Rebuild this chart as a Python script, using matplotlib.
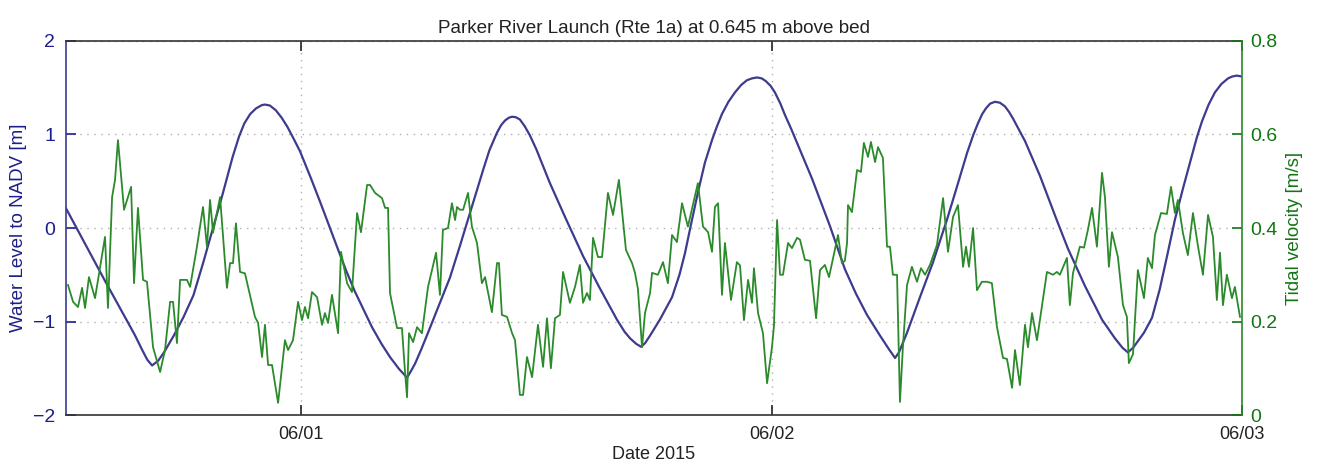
import matplotlib
matplotlib.use("Agg")
import matplotlib.pyplot as plt
import matplotlib.dates as mdates
import pandas as pd

plt.rcParams['font.family'] = ['Liberation Sans', 'DejaVu Sans']

start = pd.Timestamp("2015-05-31 12:00")
end = pd.Timestamp("2015-06-03 00:00")

# Water level (hours after 05/31 12:00, metres)
wl_hours = [0.0, 1.0, 2.0, 3.0, 3.5, 3.9, 4.15, 4.39, 4.7, 5.0, 5.5, 6.0, 6.5, 7.0, 7.5,
            8.0, 8.5, 8.83, 9.1, 9.4, 9.7, 10.0, 10.15, 10.4, 10.7, 11.0, 11.3, 11.6,
            11.94, 12.5, 13.0, 13.5, 13.88, 14.3, 14.74, 15.2, 15.61, 16.1, 16.53, 17.0,
            17.40, 17.6, 17.81, 18.1, 18.47, 19.0, 19.59, 20.1, 20.61, 21.0, 21.28, 21.6,
            21.99, 22.2, 22.4, 22.6, 22.76, 22.95, 23.16, 23.4, 23.67, 24.0, 24.69, 25.5,
            26.38, 27.2, 28.11, 28.5, 28.78, 29.1, 29.34, 29.55, 29.8, 30.3, 30.92, 31.3,
            31.58, 31.9, 32.24, 32.6, 32.96, 33.2, 33.47, 33.8, 34.13, 34.45, 34.74, 35.0,
            35.26, 35.5, 35.71, 35.95, 36.17, 36.45, 36.68, 37.0, 37.30, 38.06, 38.98,
            39.74, 40.3, 40.87, 41.53, 42.0, 42.30, 42.5, 42.91, 43.57, 44.23, 44.95, 45.5,
            45.97, 46.3, 46.53, 46.75, 46.94, 47.15, 47.40, 47.65, 47.91, 48.12, 48.32,
            48.6, 48.93, 49.69, 50.56, 51.12, 51.99, 52.86, 53.52, 53.9, 54.18, 54.45,
            54.69, 55.0, 55.41, 55.8, 56.2, 56.58, 57.0, 57.35, 57.7, 57.96, 58.3, 58.62,
            58.95, 59.29, 59.5, 59.74, 60.0]
wl_values = [0.21, -0.18, -0.57, -0.95, -1.14, -1.31, -1.41, -1.47, -1.42, -1.33, -1.15,
             -0.95, -0.72, -0.37, 0.0, 0.37, 0.76, 0.98, 1.12, 1.22, 1.28, 1.315, 1.32,
             1.31, 1.26, 1.18, 1.08, 0.96, 0.82, 0.53, 0.26, -0.02, -0.23, -0.46, -0.68,
             -0.88, -1.06, -1.24, -1.38, -1.51, -1.60, -1.53, -1.45, -1.31, -1.12, -0.84,
             -0.53, -0.19, 0.16, 0.43, 0.62, 0.83, 1.02, 1.10, 1.15, 1.18, 1.19, 1.185,
             1.16, 1.09, 0.99, 0.84, 0.48, 0.10, -0.30, -0.63, -0.98, -1.11, -1.18, -1.24,
             -1.27, -1.23, -1.15, -0.98, -0.74, -0.50, -0.27, 0.05, 0.38, 0.70, 0.94, 1.08,
             1.22, 1.35, 1.45, 1.53, 1.58, 1.60, 1.61, 1.60, 1.57, 1.52, 1.45, 1.33, 1.21,
             1.06, 0.91, 0.53, 0.02, -0.44, -0.70, -0.93, -1.15, -1.30, -1.39, -1.33, -1.12,
             -0.74, -0.37, 0.09, 0.47, 0.80, 1.00, 1.12, 1.22, 1.28, 1.33, 1.35, 1.34, 1.30,
             1.24, 1.17, 1.06, 0.93, 0.56, 0.08, -0.22, -0.62, -0.98, -1.18, -1.28, -1.33,
             -1.28, -1.21, -1.12, -0.96, -0.66, -0.28, 0.09, 0.43, 0.70, 0.97, 1.14, 1.32,
             1.45, 1.54, 1.60, 1.62, 1.63, 1.62]

# Tidal velocity (hours after 05/31 12:00, m/s)
vel_hours = [0.10, 0.36, 0.61, 0.82, 0.97, 1.17, 1.48, 1.73, 1.99, 2.14, 2.35, 2.50, 2.65,
             2.96, 3.32, 3.47, 3.67, 3.93, 4.13, 4.44, 4.80, 5.05, 5.31, 5.46, 5.66, 5.82,
             6.17, 6.33, 6.68, 6.99, 7.19, 7.35, 7.50, 7.86, 8.21, 8.37, 8.52, 8.67, 8.88,
             9.13, 9.64, 9.80, 10.00, 10.15, 10.31, 10.51, 10.82, 11.17, 11.33, 11.58,
             11.84, 12.04, 12.19, 12.35, 12.55, 12.81, 13.06, 13.21, 13.37, 13.57, 13.88,
             14.03, 14.34, 14.59, 14.85, 15.05, 15.36, 15.51, 15.77, 16.12, 16.28, 16.43,
             16.53, 16.89, 17.14, 17.30, 17.40, 17.50, 17.71, 17.91, 18.16, 18.47, 18.88,
             19.08, 19.23, 19.49, 19.69, 19.85, 19.95, 20.10, 20.26, 20.51, 20.71, 20.97,
             21.22, 21.38, 21.73, 21.99, 22.09, 22.24, 22.50, 22.76, 22.91, 23.16, 23.32,
             23.52, 23.78, 24.08, 24.34, 24.54, 24.74, 24.95, 25.20, 25.36, 25.71, 25.97,
             26.22, 26.38, 26.58, 26.73, 26.89, 27.14, 27.35, 27.65, 27.91, 28.21, 28.57,
             28.88, 29.03, 29.18, 29.39, 29.54, 29.80, 29.90, 30.20, 30.46, 30.71, 30.92,
             31.17, 31.43, 31.73, 32.24, 32.50, 32.76, 32.96, 33.11, 33.27, 33.47, 33.62,
             33.93, 34.23, 34.39, 34.59, 34.80, 35.00, 35.10, 35.31, 35.56, 35.77, 36.02,
             36.12, 36.28, 36.43, 36.58, 36.84, 37.04, 37.30, 37.45, 37.70, 37.96, 38.27,
             38.47, 38.72, 38.93, 39.39, 39.59, 39.74, 39.85, 39.90, 40.10, 40.36, 40.56,
             40.71, 40.92, 41.07, 41.28, 41.43, 41.68, 41.89, 42.04, 42.19, 42.40, 42.55,
             42.70, 42.91, 43.16, 43.42, 43.62, 43.83, 44.08, 44.44, 44.75, 45.00, 45.26,
             45.51, 45.77, 45.92, 46.07, 46.28, 46.48, 46.73, 46.99, 47.24, 47.50, 47.81,
             48.01, 48.27, 48.42, 48.67, 48.93, 49.08, 49.29, 49.54, 50.05, 50.36, 50.56,
             50.71, 51.07, 51.22, 51.38, 51.73, 51.94, 52.14, 52.35, 52.60, 52.86, 53.01,
             53.21, 53.37, 53.67, 53.93, 54.13, 54.23, 54.44, 54.69, 55.00, 55.20, 55.41,
             55.56, 55.87, 56.17, 56.38, 56.58, 56.73, 56.99, 57.24, 57.50, 57.76, 58.01,
             58.27, 58.52, 58.72, 58.88, 59.03, 59.23, 59.49, 59.64, 59.90]
vel_values = [0.278, 0.242, 0.231, 0.272, 0.229, 0.295, 0.250, 0.314, 0.381, 0.229, 0.466,
              0.503, 0.588, 0.439, 0.488, 0.282, 0.443, 0.289, 0.285, 0.145, 0.092, 0.139,
              0.242, 0.242, 0.154, 0.289, 0.289, 0.274, 0.360, 0.445, 0.360, 0.460, 0.390,
              0.466, 0.272, 0.325, 0.325, 0.410, 0.306, 0.303, 0.210, 0.197, 0.124, 0.193,
              0.107, 0.107, 0.026, 0.160, 0.139, 0.160, 0.242, 0.203, 0.231, 0.207, 0.263,
              0.252, 0.193, 0.218, 0.197, 0.257, 0.175, 0.349, 0.282, 0.263, 0.432, 0.391,
              0.492, 0.492, 0.475, 0.464, 0.443, 0.443, 0.261, 0.186, 0.186, 0.090, 0.038,
              0.175, 0.156, 0.188, 0.175, 0.274, 0.347, 0.257, 0.396, 0.400, 0.453, 0.417,
              0.445, 0.439, 0.439, 0.475, 0.403, 0.368, 0.282, 0.295, 0.220, 0.325, 0.325,
              0.214, 0.210, 0.175, 0.160, 0.043, 0.043, 0.124, 0.081, 0.193, 0.103, 0.207,
              0.100, 0.207, 0.214, 0.306, 0.240, 0.274, 0.321, 0.240, 0.261, 0.246, 0.379,
              0.338, 0.338, 0.475, 0.428, 0.503, 0.353, 0.325, 0.304, 0.270, 0.145, 0.218,
              0.261, 0.304, 0.300, 0.327, 0.282, 0.385, 0.370, 0.453, 0.403, 0.496, 0.403,
              0.391, 0.349, 0.445, 0.453, 0.257, 0.368, 0.246, 0.327, 0.320, 0.203, 0.289,
              0.240, 0.314, 0.218, 0.175, 0.068, 0.145, 0.190, 0.417, 0.300, 0.300, 0.368,
              0.357, 0.379, 0.375, 0.332, 0.330, 0.207, 0.310, 0.321, 0.295, 0.385, 0.325,
              0.330, 0.368, 0.449, 0.434, 0.524, 0.520, 0.582, 0.552, 0.584, 0.541, 0.573,
              0.550, 0.360, 0.360, 0.300, 0.300, 0.028, 0.145, 0.278, 0.317, 0.285, 0.314,
              0.300, 0.321, 0.364, 0.464, 0.349, 0.424, 0.449, 0.317, 0.360, 0.317, 0.400,
              0.267, 0.285, 0.285, 0.282, 0.188, 0.122, 0.120, 0.058, 0.139, 0.064, 0.193,
              0.145, 0.218, 0.160, 0.306, 0.300, 0.306, 0.300, 0.336, 0.235, 0.304, 0.360,
              0.358, 0.396, 0.443, 0.360, 0.518, 0.466, 0.317, 0.391, 0.338, 0.235, 0.210,
              0.111, 0.130, 0.310, 0.250, 0.336, 0.314, 0.385, 0.432, 0.430, 0.488, 0.432,
              0.460, 0.389, 0.342, 0.432, 0.360, 0.300, 0.428, 0.381, 0.246, 0.347, 0.235,
              0.300, 0.250, 0.274, 0.210]

title = "Parker River Launch (Rte 1a) at 0.645 m above bed"
left_label = "Water Level to NADV [m]"
right_label = "Tidal velocity [m/s]"
x_label = "Date 2015"
left_ticks = [-2, -1, 0, 1, 2]
left_tick_labels = ["\u22122", "\u22121", "0", "1", "2"]
right_ticks = [0, 0.2, 0.4, 0.6, 0.8]
right_tick_labels = ["0", "0.2", "0.4", "0.6", "0.8"]
date_ticks = ["2015-06-01", "2015-06-02", "2015-06-03"]

blue = "#3d3b8e"
blue_txt = "#1c1f8a"
green = "#2b8a2b"
green_txt = "#147514"

wl_t = start + pd.to_timedelta(wl_hours, unit="h")
vel_t = start + pd.to_timedelta(vel_hours, unit="h")

fig = plt.figure(figsize=(13.18, 4.69), dpi=100)
ax = fig.add_axes([0.0501, 0.1151, 0.8922, 0.7975])
ax2 = ax.twinx()

ax.plot(wl_t, wl_values, color=blue, lw=1.6, solid_joinstyle='round')
ax2.plot(vel_t, vel_values, color=green, lw=1.3, solid_joinstyle='round')

ax.set_xlim(start, end)
ax.set_ylim(-2, 2)
ax2.set_ylim(0, 0.8)

ax.set_yticks(left_ticks)
ax.set_yticklabels(left_tick_labels)
ax2.set_yticks(right_ticks)
ax2.set_yticklabels(right_tick_labels)

ax.xaxis.set_major_formatter(mdates.DateFormatter("%m/%d"))
ax.set_xticks(pd.to_datetime(date_ticks))

ax.tick_params(axis='x', direction='in', length=7, top=True, bottom=True,
               labelsize=13, colors='#222222', pad=8, width=1.2)
ax.tick_params(axis='y', direction='in', length=7, left=True, right=False,
               labelsize=14, colors=blue_txt, pad=8, width=1.2)
ax2.tick_params(axis='y', direction='in', length=7, right=True, left=False,
                labelsize=14, colors=green_txt, pad=6, width=1.2)

ax.grid(True, linestyle=(0, (1, 4)), color='#b0b0b0', lw=1.0)

for s in ['top', 'bottom']:
    ax.spines[s].set_color('#333333')
    ax2.spines[s].set_visible(False)
ax.spines['left'].set_color(blue)
ax2.spines['left'].set_visible(False)
ax.spines['right'].set_visible(False)
ax2.spines['right'].set_color(green)
for a in (ax, ax2):
    for s in a.spines.values():
        s.set_linewidth(1.2)

ax.set_ylabel(left_label, color=blue_txt, fontsize=13.5, labelpad=4)
ax2.set_ylabel(right_label, color=green_txt, fontsize=13.5, labelpad=6)
ax.set_xlabel(x_label, fontsize=13, color='#222222', labelpad=2)
ax.set_title(title, fontsize=13.6, color='#222222', pad=6)

fig.savefig("out.png", dpi=100)
